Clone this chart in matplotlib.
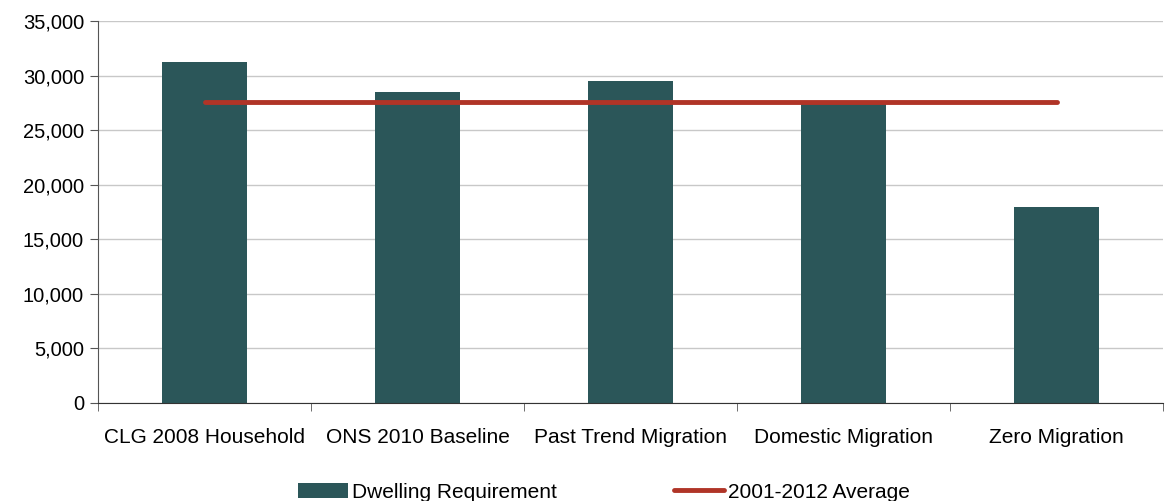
import numpy as np
import matplotlib.pyplot as plt
from matplotlib.ticker import FuncFormatter

# Scenarios and values
scenarios = ['CLG 2008 Household', 'ONS 2010 Baseline', 'Past Trend Migration',
             'Domestic Migration', 'Zero Migration']
dwelling_req = [31200, 28500, 29500, 27700, 18000]
avg_2001_2012 = [27600, 27600, 27600, 27600, 27600]

bar_color = '#2b5659'
line_color = '#b03427'

plt.rcParams['font.family'] = ['Liberation Sans', 'DejaVu Sans']

fig = plt.figure(figsize=(11.65, 5.01), dpi=100)
ax = fig.add_axes([98 / 1165, 1 - 403 / 501, (1163 - 98) / 1165, (403 - 21) / 501])

x = np.arange(len(scenarios))
bars = ax.bar(x, dwelling_req, width=0.40, color=bar_color, label='Dwelling Requirement', zorder=2)
line, = ax.plot(x, avg_2001_2012, color=line_color, lw=3.5, solid_capstyle='round',
                label='2001-2012 Average', zorder=3)

ax.set_xlim(-0.5, len(scenarios) - 0.5)
ax.set_ylim(0, 35000)
ax.set_yticks(np.arange(0, 35001, 5000))
ax.yaxis.set_major_formatter(FuncFormatter(lambda v, p: f'{int(v):,}'))
ax.set_xticks(x)
ax.set_xticklabels(scenarios)
ax.set_xticks(np.arange(-0.5, len(scenarios)), minor=True)
ax.tick_params(axis='x', which='major', length=0, pad=18, labelsize=15)
ax.tick_params(axis='x', which='minor', length=6, color='#555555')
ax.tick_params(axis='y', length=6, color='#555555', labelsize=14.5, pad=4)

ax.grid(axis='y', color='#c8c8c8', lw=1, zorder=0)
for s in ['top', 'right']:
    ax.spines[s].set_visible(False)
ax.spines['left'].set_color('#555555')
ax.spines['bottom'].set_color('#333333')

fig.legend([bars, line], ['Dwelling Requirement', '2001-2012 Average'],
           loc='center', bbox_to_anchor=(604 / 1165, 1 - 492 / 501), ncol=2, frameon=False,
           fontsize=15, columnspacing=5.6, handlelength=2.4, handletextpad=0.2)

fig.savefig('out.png', dpi=100)
